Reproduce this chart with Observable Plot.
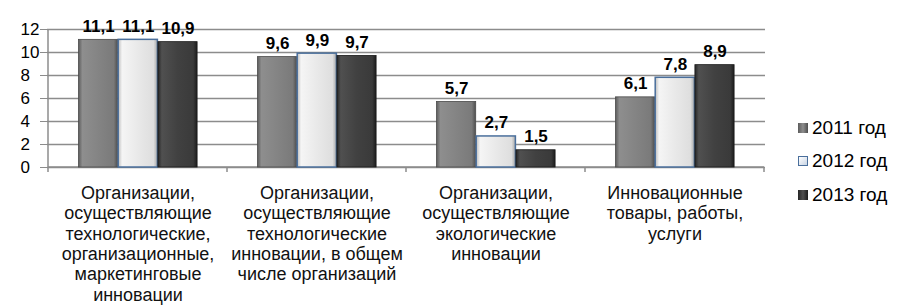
<!DOCTYPE html>
<html>
<head>
<meta charset="utf-8">
<script src="https://cdn.jsdelivr.net/npm/d3@7"></script>
<script src="https://cdn.jsdelivr.net/npm/@observablehq/plot@0.6"></script>
<style>
  html, body { margin: 0; padding: 0; background: #fff; }
  #wrap { position: relative; width: 899px; height: 306px; font-family: "Liberation Sans", Arial, sans-serif; }
  #legend { position: absolute; left: 798px; top: 111px; }
  .item { display: flex; align-items: center; height: 33.5px; font-size: 19px; color: #000; }
  .sw { width: 10px; height: 10px; margin-right: 4px; box-sizing: border-box; }
</style>
</head>
<body>
<div id="wrap"></div>
<script>
const categories = [
  "Организации,\nосуществляющие\nтехнологические,\nорганизационные,\nмаркетинговые\nинновации",
  "Организации,\nосуществляющие\nтехнологические\nинновации, в общем\nчисле организаций",
  "Организации,\nосуществляющие\nэкологические\nинновации",
  "Инновационные\nтовары, работы,\nуслуги"
];
const years = ["2011 год", "2012 год", "2013 год"];
const v2011 = [11.1, 9.6, 5.7, 6.1];
const v2012 = [11.1, 9.9, 2.7, 7.8];
const v2013 = [10.9, 9.7, 1.5, 8.9];
const yTicks = [0, 2, 4, 6, 8, 10, 12];

const series = [v2011, v2012, v2013];
const rows = [];
series.forEach((vals, k) => vals.forEach((v, i) => rows.push({cat: categories[i], year: years[k], k, value: v})));

const W = 899, H = 306;
const mL = 47, mR = 134, mT = 29, mB = 139;
const band = (W - mL - mR) / categories.length;
const groupOffset = 30.5, barW = 39.7;

const fills = ["url(#g2011)", "url(#g2012)", "url(#g2013)"];
const strokes = ["#4a4a4a", "#4a6f9c", "#1a1a1a"];
const fmt = v => v.toFixed(1).replace(".", ",");

function axisLines(index, scales) {
  const x = scales.x, y = scales.y;
  const bw = x(categories[1]) - x(categories[0]);
  const g = d3.create("svg:g").attr("stroke", "#8c8c8c").attr("stroke-width", 1.5).attr("fill", "none");
  const y0 = y(0);
  const x0 = x(categories[0]);
  const x1 = x(categories[categories.length - 1]) + bw;
  g.append("line").attr("x1", x0).attr("x2", x1).attr("y1", y0).attr("y2", y0);
  for (const c of categories) {
    const xb = x(c) + bw;
    g.append("line").attr("x1", xb).attr("x2", xb).attr("y1", y0).attr("y2", y0 + 5);
  }
  g.append("line").attr("x1", x0).attr("x2", x0).attr("y1", y(d3.max(yTicks))).attr("y2", y0 + 5);
  return g.node();
}

const marks = [
  Plot.gridY(yTicks, {stroke: "#8c8c8c", strokeOpacity: 1, strokeWidth: 1.5}),
  Plot.axisY({ticks: yTicks, tickSize: 7, tickPadding: 20, textAnchor: "start", stroke: "#8c8c8c", fill: "#000", fontSize: 17, label: null}),
  Plot.axisX({tickSize: 0, tickPadding: 17, fontSize: 18, lineHeight: 1.13, fill: "#111", label: null}),
  axisLines
];
years.forEach((yr, k) => {
  const data = rows.filter(d => d.k === k);
  marks.push(Plot.barY(data, {
    x: "cat", y: "value",
    fill: fills[k], stroke: strokes[k], strokeWidth: k === 1 ? 1.5 : 0.8,
    insetLeft: groupOffset + barW * k,
    insetRight: band - groupOffset - barW * (k + 1)
  }));
  marks.push(Plot.text(data, {
    x: "cat", y: "value", text: d => fmt(d.value),
    dx: groupOffset + barW * (k + 0.5) - band / 2,
    dy: -8, lineAnchor: "bottom",
    fontSize: 17, fontWeight: "bold", fill: "#000"
  }));
});

const chart = Plot.plot({
  width: W, height: H,
  marginLeft: mL, marginRight: mR, marginTop: mT, marginBottom: mB,
  x: {domain: categories, padding: 0, axis: null},
  y: {domain: [0, 12], axis: null},
  style: {fontFamily: "Liberation Sans, Arial, sans-serif", background: "#fff", overflow: "visible"},
  marks
});

const defs = d3.select(chart).insert("defs", ":first-child");
function grad(id, stops) {
  const lg = defs.append("linearGradient").attr("id", id).attr("x1", "0").attr("x2", "1").attr("y1", "0").attr("y2", "0");
  stops.forEach(([o, c]) => lg.append("stop").attr("offset", o).attr("stop-color", c));
}
grad("g2011", [["0", "#5c5c5c"], ["0.1", "#8e8e8e"], ["0.5", "#848484"], ["0.9", "#7a7a7a"], ["1", "#4e4e4e"]]);
grad("g2012", [["0", "#bcbcbc"], ["0.1", "#f5f5f5"], ["0.5", "#e9e9e9"], ["0.9", "#dedede"], ["1", "#a9a9a9"]]);
grad("g2013", [["0", "#262626"], ["0.1", "#505050"], ["0.5", "#414141"], ["0.9", "#3a3a3a"], ["1", "#1c1c1c"]]);

const wrap = document.getElementById("wrap");
wrap.appendChild(chart);

const legend = document.createElement("div");
legend.id = "legend";
const swatchBg = [
  "linear-gradient(90deg,#5c5c5c,#8e8e8e,#4e4e4e)",
  "linear-gradient(135deg,#ffffff,#c8d4e4)",
  "linear-gradient(90deg,#262626,#505050,#1c1c1c)"
];
years.forEach((yr, k) => {
  const it = document.createElement("div");
  it.className = "item";
  const sw = document.createElement("span");
  sw.className = "sw";
  sw.style.background = swatchBg[k];
  if (k === 1) sw.style.border = "1.5px solid #4a6f9c";
  const tx = document.createElement("span");
  tx.textContent = yr;
  it.appendChild(sw); it.appendChild(tx);
  legend.appendChild(it);
});
wrap.appendChild(legend);
</script>
</body>
</html>
